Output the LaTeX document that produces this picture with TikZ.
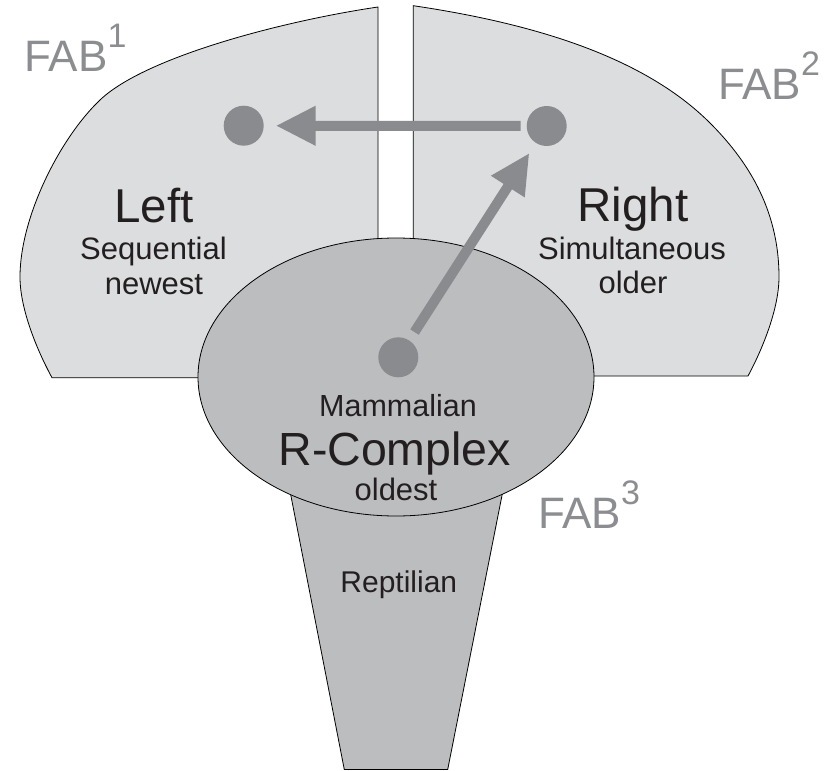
\documentclass[tikz,border=0pt]{standalone}
\usepackage{fontspec}
\setmainfont{Liberation Sans}
\usetikzlibrary{arrows.meta}
\definecolor{hemi}{HTML}{DCDDDE}
\definecolor{core}{HTML}{BCBDBF}
\definecolor{dotc}{HTML}{8A8B8E}
\definecolor{fabc}{HTML}{8C8D90}
\definecolor{ink}{HTML}{231F20}
\tikzset{
  outline/.style={draw=black, line width=0.8pt},
  dotnode/.style={circle, fill=dotc, minimum size=40pt, inner sep=0pt, outer sep=0pt},
  bigarrow/.style={draw=dotc, line width=10pt, -{Triangle[length=40pt, width=37pt]}},
  txt/.style={anchor=base, inner sep=0pt, outer sep=0pt, text=ink},
  fab/.style={anchor=base west, inner sep=0pt, outer sep=0pt, text=fabc, font=\fontsize{44}{44}\selectfont},
  bigtxt/.style={txt, font=\fontsize{47.5}{47.5}\selectfont},
  smalltxt/.style={txt, font=\fontsize{31}{31}\selectfont}
}
\newcommand{\fabsup}[1]{\raisebox{24pt}{\fontsize{34}{34}\selectfont #1}}
\begin{document}
\begin{tikzpicture}[x=1pt, y=-1pt]
\useasboundingbox (0,0) rectangle (839,771);
\fill[white] (0,0) rectangle (839,771);
% left hemisphere
\path[outline, fill=hemi] (378,7) -- (378,377.7) -- (52,377.7)
  .. controls (38,352) and (20,310) .. (20,277)
  .. controls (20,217) and (60,138) .. (100,100)
  .. controls (145,57) and (283,21) .. (378,7) -- cycle;
% right hemisphere
\path[outline, fill=hemi] (413.3,5.7) -- (413.3,376) -- (748,376)
  .. controls (761,352) and (779,310) .. (779,277)
  .. controls (779,207) and (745,158) .. (710,123)
  .. controls (640,53) and (523,22) .. (413.3,5.7) -- cycle;
% reptilian stem
\path[outline, fill=core] (282,450) -- (511,450) -- (447.7,769.5) -- (344.3,769.5) -- cycle;
% mammalian ellipse
\path[outline, fill=core] (396,377) ellipse [x radius=198pt, y radius=139pt];
% dots
\node[dotnode] (ldot) at (243.7,125.7) {};
\node[dotnode] (rdot) at (546.7,126) {};
\node[dotnode] (cdot) at (398.3,357.3) {};
% arrows
\draw[bigarrow, shorten <=6pt, shorten >=12pt] (rdot) -- (ldot);
\draw[bigarrow, shorten <=10pt, shorten >=12pt] (cdot) -- (rdot);
% labels
\node[fab] (fab1) at (24.5,71) {FAB\fabsup{1}};
\node[fab] (fab2) at (718,99) {FAB\fabsup{2}};
\node[fab] (fab3) at (538,528.3) {FAB\fabsup{3}};
\node[bigtxt] (left) at (154,222.7) {Left};
\node[smalltxt] (seq) at (153.5,259) {Sequential};
\node[smalltxt] (newest) at (154,294) {newest};
\node[bigtxt] (right) at (633,221.7) {Right};
\node[smalltxt] (simul) at (632,259) {Simultaneous};
\node[smalltxt] (older) at (633,293.3) {older};
\node[txt, font=\fontsize{30.5}{30.5}\selectfont] (mamm) at (398,416) {Mammalian};
\node[txt, font=\fontsize{46.5}{46.5}\selectfont] (rcomp) at (394.7,465) {R-Complex};
\node[smalltxt] (oldest) at (396,500.7) {oldest};
\node[txt, font=\fontsize{30}{30}\selectfont] (rept) at (398.8,592.7) {Reptilian};
\end{tikzpicture}
\end{document}
